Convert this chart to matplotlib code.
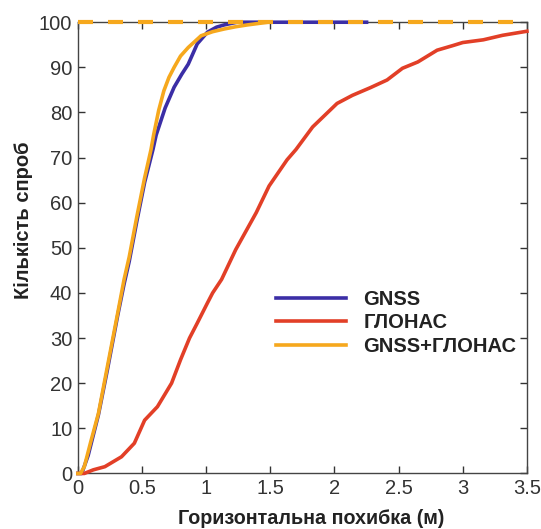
import matplotlib
matplotlib.use("Agg")
from matplotlib import pyplot as plt

# cumulative share of attempts (%) vs horizontal error (m)
gnss_x = [0, 0.03, 0.08, 0.16, 0.23, 0.31, 0.36, 0.40, 0.46, 0.52, 0.585, 0.61,
          0.68, 0.75, 0.81, 0.86, 0.93, 1.01, 1.08, 1.14, 1.24, 2.25]
gnss_y = [0, 0, 4, 13, 23, 35, 42, 47, 56, 64.5, 71.8, 75,
          81, 85.6, 88.5, 90.7, 95.2, 97.8, 98.9, 99.4, 100, 100]

glonass_x = [0, 0.05, 0.12, 0.21, 0.34, 0.44, 0.52, 0.62, 0.73, 0.80, 0.87,
             0.93, 1.01, 1.05, 1.12, 1.23, 1.39, 1.49, 1.63, 1.70, 1.83, 2.02,
             2.14, 2.28, 2.41, 2.53, 2.65, 2.80, 2.92, 3.0, 3.16, 3.31, 3.5]
glonass_y = [0, 0, 0.8, 1.5, 3.7, 6.7, 11.8, 14.8, 20, 25.2, 30,
             33.3, 37.8, 40, 43, 49.6, 57.8, 63.7, 69.5, 71.8, 76.8, 82,
             83.8, 85.5, 87.2, 89.8, 91.2, 93.8, 94.8, 95.5, 96.1, 97.1, 98]

combo_x = [0, 0.02, 0.05, 0.10, 0.16, 0.23, 0.31, 0.36, 0.40, 0.46, 0.52, 0.57,
           0.59, 0.63, 0.67, 0.71, 0.75, 0.80, 0.86, 0.96, 1.05, 1.14, 1.23,
           1.32, 1.48]
combo_y = [0, 0, 1.5, 7, 13.3, 23.7, 35.5, 43, 48, 57, 65.5, 71.8,
           75, 80.5, 84.8, 87.8, 90, 92.5, 94.4, 97, 97.9, 98.5, 99.0,
           99.4, 100]

TOTAL = 100

labels = ["GNSS", "ГЛОНАС", "GNSS+ГЛОНАС"]
colors = ["#3b2ea6", "#e23f27", "#f6a81d"]

plt.rcParams["font.family"] = ["Liberation Sans", "DejaVu Sans"]

fig = plt.figure(figsize=(5.41, 5.29), dpi=100)
ax = fig.add_axes([0.144, 0.105, 0.830, 0.853])

lw = 2.6
ax.plot(gnss_x, gnss_y, color=colors[0], lw=lw, label=labels[0],
        clip_on=False, zorder=3)
ax.plot(glonass_x, glonass_y, color=colors[1], lw=lw, label=labels[1],
        clip_on=False, zorder=3)
ax.plot(combo_x, combo_y, color=colors[2], lw=lw, label=labels[2],
        clip_on=False, zorder=4)
ax.axhline(TOTAL, color=colors[2], lw=3, dashes=(3.6, 3.6),
           clip_on=False, zorder=5)

ax.set_xlim(0, 3.5)
ax.set_ylim(0, 100)
ax.set_xticks([0, 0.5, 1, 1.5, 2, 2.5, 3, 3.5])
ax.set_xticklabels(["0", "0.5", "1", "1.5", "2", "2.5", "3", "3.5"])
ax.set_yticks(range(0, 101, 10))

for sp in ax.spines.values():
    sp.set_color("#444444")
    sp.set_linewidth(1.0)
ax.tick_params(direction="in", top=True, right=True, length=5, width=1,
               color="#333333", labelsize=14.5, labelcolor="#333333", pad=4)

ax.set_xlabel("Горизонтальна похибка (м)", fontsize=14.2, fontweight="bold",
              color="#222222")
ax.set_ylabel("Кількість спроб", fontsize=14.5, fontweight="bold",
              color="#222222")
ax.xaxis.set_label_coords(0.519, -0.078)
ax.yaxis.set_label_coords(-0.1, 0.562)

ax.legend(frameon=False, loc="upper left", bbox_to_anchor=(0.40, 0.447),
          handlelength=3.5, handletextpad=0.85, labelspacing=0.22,
          prop={"size": 14.5, "weight": "bold"}, labelcolor="#222222")

fig.savefig("out.png", dpi=100)
